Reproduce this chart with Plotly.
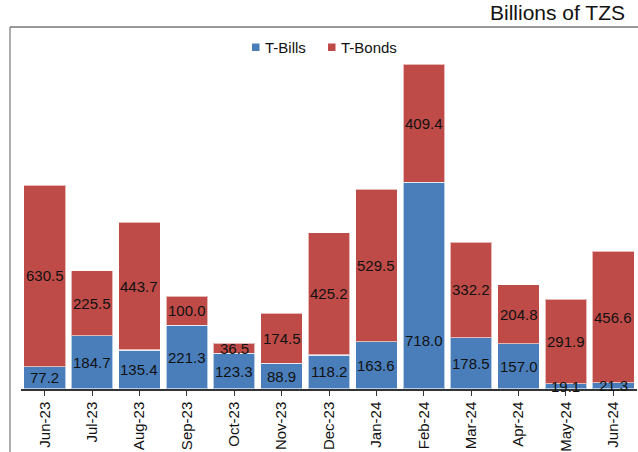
import plotly.graph_objects as go

months = ["Jun-23", "Jul-23", "Aug-23", "Sep-23", "Oct-23", "Nov-23", "Dec-23",
          "Jan-24", "Feb-24", "Mar-24", "Apr-24", "May-24", "Jun-24"]
t_bills = [77.2, 184.7, 135.4, 221.3, 123.3, 88.9, 118.2, 163.6, 718.0, 178.5, 157.0, 19.1, 21.3]
t_bonds = [630.5, 225.5, 443.7, 100.0, 36.5, 174.5, 425.2, 529.5, 409.4, 332.2, 204.8, 291.9, 456.6]
series_names = ["T-Bills", "T-Bonds"]

BLUE = "#4A7EBB"
RED = "#BE4B48"
FONT = "Arial, Liberation Sans, sans-serif"

W, H = 638, 452
ML, MR, MT, MB = 21, 1, 27, 63
pw, ph = W - ML - MR, H - MT - MB


def px_x(px):
    return (px - ML) / pw


def px_y(py):
    return (H - MB - py) / ph


fig = go.Figure()
for name, vals, col in zip(series_names, [t_bills, t_bonds], [BLUE, RED]):
    fig.add_bar(x=months, y=vals, name=name, marker_color=col, showlegend=False,
                marker_line=dict(color="rgba(255,255,255,0.6)", width=1.2))

# value labels centred in each segment (the large Feb-24 bills label sits lower)
label_y_bills = {"Feb-24": 167}
ann = []
for m, b, d in zip(months, t_bills, t_bonds):
    ann.append(dict(x=m, y=label_y_bills.get(m, b / 2), text=f"{b:.1f}", showarrow=False,
                    font=dict(size=15, color="#111", family=FONT)))
    ann.append(dict(x=m, y=b + d / 2, text=f"{d:.1f}", showarrow=False,
                    font=dict(size=15, color="#111", family=FONT)))

ann.append(dict(xref="paper", yref="paper", x=px_x(627), y=px_y(26),
                xanchor="right", yanchor="bottom", text="Billions of TZS", showarrow=False,
                font=dict(size=21, color="#111", family=FONT)))

# chart frame (left and top edges)
shapes = [
    dict(type="line", xref="paper", yref="paper", x0=px_x(10), x1=px_x(W), y0=1, y1=1,
         line=dict(color="#333", width=1.2)),
    dict(type="line", xref="paper", yref="paper", x0=px_x(10), x1=px_x(10), y0=1, y1=px_y(H),
         line=dict(color="#777", width=1.2)),
]

# legend: small square keys with series names
for name, col, sx in zip(series_names, [BLUE, RED], [252, 328]):
    shapes.append(dict(type="rect", xref="paper", yref="paper",
                       x0=px_x(sx), x1=px_x(sx + 7.5), y0=px_y(43.5), y1=px_y(51),
                       fillcolor=col, line=dict(width=0)))
    ann.append(dict(xref="paper", yref="paper", x=px_x(sx + 11), y=px_y(47.5),
                    xanchor="left", yanchor="middle", text=name, showarrow=False,
                    font=dict(size=15, color="#111", family=FONT)))

fig.update_layout(
    barmode="stack", bargap=0.12,
    width=W, height=H,
    margin=dict(l=ML, r=MR, t=MT, b=MB),
    paper_bgcolor="white", plot_bgcolor="white",
    font=dict(family=FONT, color="#111"),
    annotations=ann,
    shapes=shapes,
)
fig.update_xaxes(tickangle=-90, tickfont=dict(size=15, family=FONT, color="#111"),
                 showline=True, linecolor="#333", linewidth=1.5,
                 ticks="outside", ticklen=5, tickcolor="#333", showgrid=False)
fig.update_yaxes(range=[0, 1257], visible=False, showgrid=False)

fig.write_html("out.html")
